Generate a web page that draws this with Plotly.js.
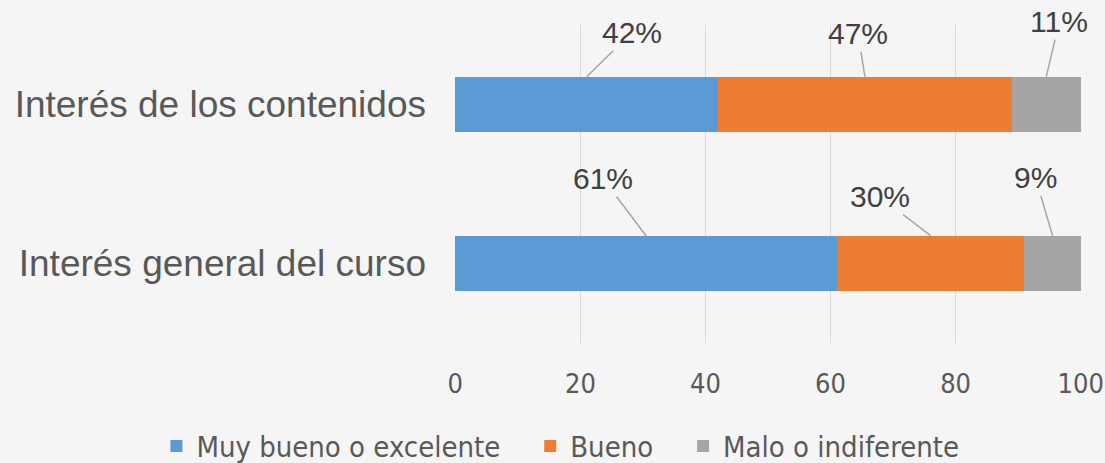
<!DOCTYPE html>
<html>
<head>
<meta charset="utf-8">
<script src="https://cdn.plot.ly/plotly-3.0.1.min.js"></script>
<style>
html,body{margin:0;padding:0;background:#f5f5f5;}
#chart{width:1105px;height:463px;}
</style>
</head>
<body>
<div id="chart"></div>
<script>
// Data
const categories = ['Interés general del curso', 'Interés de los contenidos'];
const seriesNames = ['Muy bueno o excelente', 'Bueno', 'Malo o indiferente'];
const muyBueno = [61, 42];
const bueno = [30, 47];
const malo = [9, 11];
const tickValues = [0, 20, 40, 60, 80, 100];

const colors = ['#5b9bd5', '#ed7d31', '#a5a5a5'];
const series = [muyBueno, bueno, malo];
const legendPad = '\u00a0\u00a0\u00a0';

const traces = series.map((vals, i) => ({
  type: 'bar',
  orientation: 'h',
  name: seriesNames[i] + (i < series.length - 1 ? legendPad : ''),
  y: categories,
  x: vals,
  marker: {color: colors[i], line: {width: 0}},
  hoverinfo: 'skip'
}));

// Label offsets (pixels) for leader-line annotations: [series][category]
const labelOffsets = [
  [[-43, -57], [45, -44]],
  [[-51, -39], [-7, -43]],
  [[-17, -58], [13, -55]]
];

const barWidth = 0.35;
const annotations = [];
categories.forEach((cat, ci) => {
  let cum = 0;
  series.forEach((vals, si) => {
    const v = vals[ci];
    const mid = cum + v / 2;
    cum += v;
    annotations.push({
      x: mid,
      y: ci + barWidth / 2,
      xref: 'x', yref: 'y',
      text: v + '%',
      showarrow: true,
      arrowhead: 0,
      arrowwidth: 1.5,
      arrowcolor: '#a6a6a6',
      ax: labelOffsets[si][ci][0],
      ay: labelOffsets[si][ci][1],
      standoff: 0,
      startstandoff: 0,
      font: {family: 'Liberation Sans, Arial, sans-serif', size: 30, color: '#404040'}
    });
  });
});

const layout = {
  width: 1105,
  height: 463,
  margin: {l: 455, r: 24, t: 25, b: 120, pad: 0, autoexpand: false},
  paper_bgcolor: '#f5f5f5',
  plot_bgcolor: '#f5f5f5',
  barmode: 'stack',
  bargap: 1 - barWidth,
  showlegend: true,
  legend: {
    orientation: 'h',
    x: -0.477, xanchor: 'left',
    y: -0.324, yanchor: 'middle',
    font: {family: 'DejaVu Sans Condensed, sans-serif', size: 29, color: '#595959'},
    traceorder: 'normal',
    bgcolor: 'rgba(0,0,0,0)'
  },
  xaxis: {
    range: [-0.05, 100.05],
    tickvals: tickValues,
    ticktext: tickValues.map(String),
    showgrid: true,
    gridcolor: '#d9d9d9',
    gridwidth: 1.5,
    zeroline: false,
    showline: false,
    ticks: '',
    automargin: false,
    ticklabelstandoff: 22,
    tickfont: {family: 'DejaVu Sans Condensed, sans-serif', size: 27, color: '#595959'},
    fixedrange: true
  },
  yaxis: {
    type: 'category',
    categoryorder: 'array',
    categoryarray: categories,
    range: [-0.5, 1.5],
    showgrid: false,
    zeroline: false,
    showline: false,
    ticks: '',
    automargin: false,
    ticklabelstandoff: 28,
    tickfont: {family: 'Liberation Sans, Arial, sans-serif', size: 37, color: '#595959'},
    fixedrange: true
  },
  annotations: annotations
};

Plotly.newPlot('chart', traces, layout, {displayModeBar: false, staticPlot: true});
</script>
</body>
</html>
